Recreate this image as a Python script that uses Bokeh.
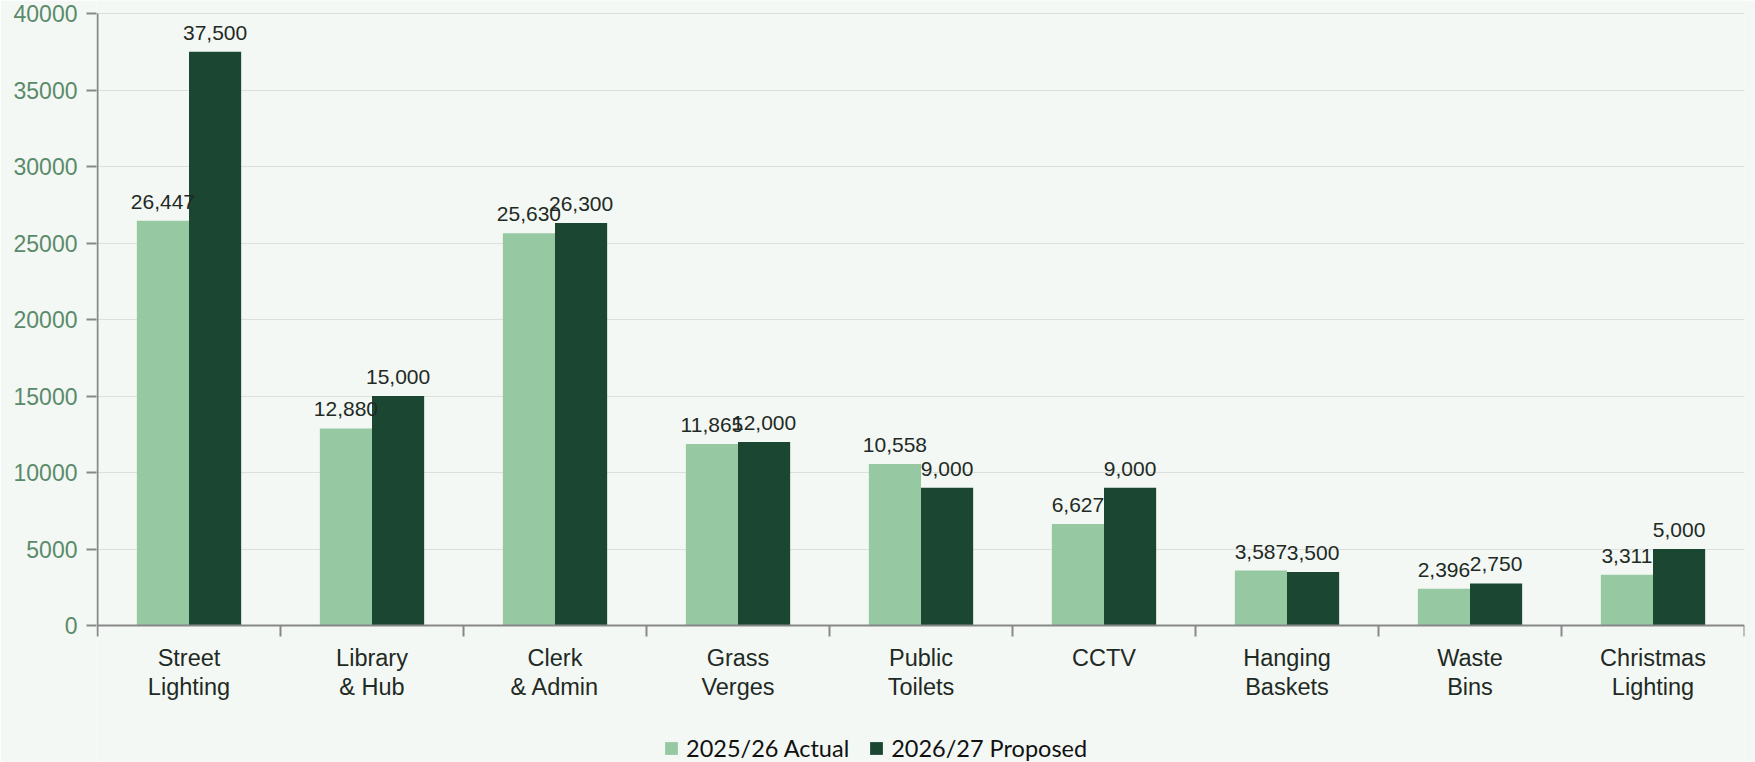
from bokeh.plotting import figure
from bokeh.models import ColumnDataSource, FixedTicker, Legend, LegendItem, Range1d
from bokeh.core.properties import value
from bokeh.embed import file_html
from bokeh.resources import INLINE

categories = ["Street\nLighting", "Library\n& Hub", "Clerk\n& Admin", "Grass\nVerges",
              "Public\nToilets", "CCTV", "Hanging\nBaskets", "Waste\nBins", "Christmas\nLighting"]
actual_2526 = [26447, 12880, 25630, 11865, 10558, 6627, 3587, 2396, 3311]
proposed_2627 = [37500, 15000, 26300, 12000, 9000, 9000, 3500, 2750, 5000]
series_names = ["2025/26 Actual", "2026/27 Proposed"]
y_ticks = [0, 5000, 10000, 15000, 20000, 25000, 30000, 35000, 40000]

LIGHT = "#96c8a2"
DARK = "#1b4732"
BG = "#f3f8f4"
AXIS = "#888888"

W, H = 1755, 762
LEFT, RIGHT = 96, 11
Y_TOP_PX, Y_ZERO_PX = 13, 625          # screen rows of 40000 and 0
n = len(categories)
ymax = y_ticks[-1]
upp = ymax / (Y_ZERO_PX - Y_TOP_PX)     # data units per pixel (vertical)
x_lo = -1 / 183                         # one pixel of room for the y-axis line

centers = [i + 0.5 for i in range(n)]
bounds = list(range(n + 1))
off = 0.1425
bw = 0.285

src_a = ColumnDataSource(dict(x=[c - off for c in centers], top=actual_2526,
                              lab=[f"{v:,}" for v in actual_2526]))
src_p = ColumnDataSource(dict(x=[c + off for c in centers], top=proposed_2627,
                              lab=[f"{v:,}" for v in proposed_2627]))

p = figure(width=W, height=H, output_backend="svg", toolbar_location=None,
           x_range=Range1d(x_lo, n),
           y_range=Range1d(-(H - Y_ZERO_PX) * upp, ymax + Y_TOP_PX * upp),
           x_axis_location=None,
           background_fill_color=BG, border_fill_color=BG,
           min_border_left=LEFT, min_border_right=RIGHT, min_border_top=0, min_border_bottom=0)
p.outline_line_color = None

p.xgrid.grid_line_color = None
p.ygrid.ticker = FixedTicker(ticks=y_ticks)
p.ygrid.grid_line_color = "#dcdfdc"
p.ygrid.grid_line_width = 1

ra = p.vbar(x="x", top="top", width=bw, bottom=0, source=src_a, fill_color=LIGHT, line_color=None)
rp = p.vbar(x="x", top="top", width=bw, bottom=0, source=src_p, fill_color=DARK, line_color=None)

for src in (src_a, src_p):
    p.text(x="x", y="top", text="lab", source=src, text_align="center",
           text_baseline="alphabetic", y_offset=-19, text_font=value("Liberation Sans"),
           text_font_size="21px", text_color="#1f2a24")

# axis lines and category boundary ticks
p.segment(x0=[0], y0=[0], x1=[0], y1=[ymax], line_color=AXIS, line_width=2)
p.segment(x0=[0], y0=[0], x1=[n], y1=[0], line_color=AXIS, line_width=2)
p.segment(x0=bounds, y0=[0] * len(bounds), x1=bounds, y1=[-11 * upp] * len(bounds),
          line_color=AXIS, line_width=2)

# category labels
p.text(x=centers, y=[0] * n, text=categories, text_align="center", text_baseline="top",
       y_offset=19, text_font=value("Liberation Sans"), text_font_size="23.5px",
       text_line_height=1.15, text_color="#1f2a24")

# y axis (ticks and labels only; line drawn above)
p.yaxis.ticker = FixedTicker(ticks=y_ticks)
p.yaxis.axis_line_color = None
p.yaxis.major_tick_line_color = AXIS
p.yaxis.major_tick_line_width = 2
p.yaxis.major_tick_out = 10
p.yaxis.major_tick_in = 0
p.yaxis.minor_tick_line_color = None
p.yaxis.major_label_text_font = "Liberation Sans"
p.yaxis.major_label_text_font_size = "23px"
p.yaxis.major_label_text_color = "#5b8a6b"
p.yaxis.major_label_standoff = 9

legend = Legend(items=[LegendItem(label=series_names[0], renderers=[ra]),
                       LegendItem(label=series_names[1], renderers=[rp])],
                orientation="horizontal", location=(567, 0),
                background_fill_alpha=0, border_line_color=None,
                label_text_font="Lato", label_text_font_size="23.5px", label_text_color="#111111",
                glyph_width=16, glyph_height=16, label_standoff=7, spacing=19,
                padding=0, margin=0)
p.add_layout(legend, "center")

open("out.html", "w").write(file_html(p, INLINE))
